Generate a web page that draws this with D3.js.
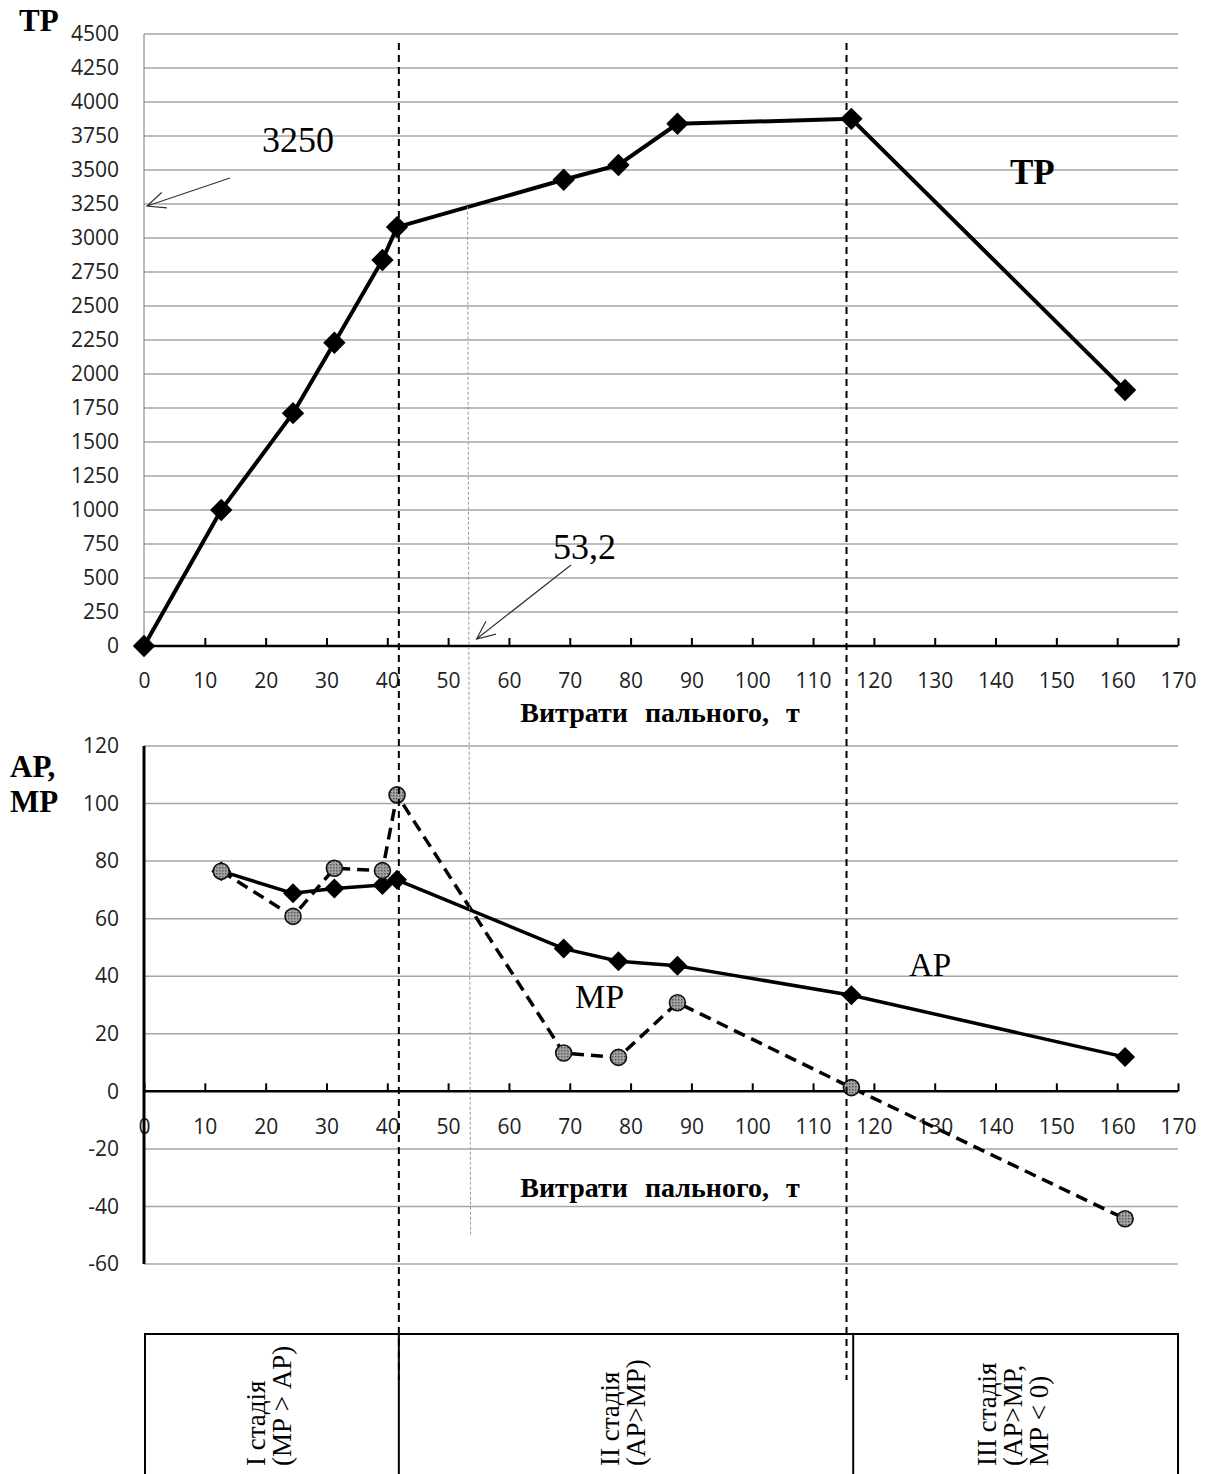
<!DOCTYPE html>
<html>
<head>
<meta charset="utf-8">
<script src="https://cdn.jsdelivr.net/npm/d3@7"></script>
<style>
  body { margin: 0; background: #fff; }
  .tick text { font-family: "Open Sans", sans-serif; font-size: 21px; fill: #222; }
</style>
</head>
<body>
<div id="chart"></div>
<script>
// values
const fuel = [0, 12.7, 24.5, 31.3, 39.2, 41.6, 69, 78, 87.7, 116.3, 161.3];
const tp   = [0, 1000, 1712, 2230, 2838, 3080, 3428, 3537, 3840, 3876, 1882];

const apFuel = [12.7, 24.5, 31.3, 39.2, 41.6, 69, 78, 87.7, 116.3, 161.3];
const ap = [76.5, 68.8, 70.5, 71.7, 73.5, 49.6, 45.2, 43.6, 33.4, 11.9];
const mp = [76.5, 60.8, 77.5, 76.7, 103, 13.3, 11.8, 30.8, 1.3, -44.3];

const xTicks  = d3.range(0, 171, 10);
const tpTicks = d3.range(0, 4501, 250);
const apTicks = d3.range(-60, 121, 20);

const stageLines = [41.9, 115.5];     // dashed boundaries
const stageCells = [0, 41.9, 116.6, 170];
const stageText = [
    ["І стадія", "(МР > АР)"],
    ["ІІ стадія", "(АР>МР)"],
    ["ІІІ стадія", "(АР>МР,", "МР < 0)"]
];

const svg = d3.select("#chart").append("svg")
    .attr("width", 1205)
    .attr("height", 1474);

// scales
const x = d3.scaleLinear().domain([0, 170]).range([144, 1178]);
const yTop = d3.scaleLinear().domain([0, 4500]).range([646, 34]);
const yBot = d3.scaleLinear().domain([-60, 120]).range([1264, 746]);

const serif = "'Liberation Serif', 'Times New Roman', serif";

// pattern for the grey circles
const pat = svg.append("defs").append("pattern")
    .attr("id", "dots").attr("width", 3).attr("height", 3)
    .attr("patternUnits", "userSpaceOnUse");
pat.append("rect").attr("width", 3).attr("height", 3).attr("fill", "#a2a2a2");
pat.append("rect").attr("width", 1.5).attr("height", 1.5).attr("fill", "#5a5a5a");

// ---------- top chart ----------
const topG = svg.append("g");

topG.selectAll(".gridT")
    .data(tpTicks.filter(d => d > 0))
    .join("line")
    .attr("x1", x(0)).attr("x2", x(170))
    .attr("y1", d => yTop(d)).attr("y2", d => yTop(d))
    .attr("stroke", "#a6a6a6").attr("stroke-width", 1.5);

topG.append("line")
    .attr("x1", x(0)).attr("x2", x(0))
    .attr("y1", yTop(0)).attr("y2", yTop(4500))
    .attr("stroke", "#777").attr("stroke-width", 1);

const yAxisTop = topG.append("g")
    .attr("transform", `translate(${x(0)},0)`)
    .call(d3.axisLeft(yTop).tickValues(tpTicks).tickSize(0).tickPadding(25).tickFormat(d => String(d)));
yAxisTop.select(".domain").remove();

const xAxisTop = topG.append("g")
    .attr("transform", `translate(0,${yTop(0)})`)
    .call(d3.axisBottom(x).tickValues(xTicks).tickSize(-8).tickPadding(27));
xAxisTop.select(".domain").remove();
xAxisTop.selectAll(".tick line").attr("stroke", "#000").attr("stroke-width", 2);

topG.append("line")
    .attr("x1", x(0)).attr("x2", x(170))
    .attr("y1", yTop(0)).attr("y2", yTop(0))
    .attr("stroke", "#000").attr("stroke-width", 2.5);

// ---------- bottom chart ----------
const botG = svg.append("g");

botG.selectAll(".gridB")
    .data(apTicks.filter(d => d !== 0))
    .join("line")
    .attr("x1", x(0)).attr("x2", x(170))
    .attr("y1", d => yBot(d)).attr("y2", d => yBot(d))
    .attr("stroke", "#a6a6a6").attr("stroke-width", 1.5);

const yAxisBot = botG.append("g")
    .attr("transform", `translate(${x(0)},0)`)
    .call(d3.axisLeft(yBot).tickValues(apTicks).tickSize(0).tickPadding(25).tickFormat(d => String(d)));
yAxisBot.select(".domain").remove();

const xAxisBot = botG.append("g")
    .attr("transform", `translate(0,${yBot(0)})`)
    .call(d3.axisBottom(x).tickValues(xTicks).tickSize(-8).tickPadding(28));
xAxisBot.select(".domain").remove();
xAxisBot.selectAll(".tick line").attr("stroke", "#000").attr("stroke-width", 2);

botG.append("line")
    .attr("x1", x(0)).attr("x2", x(170))
    .attr("y1", yBot(0)).attr("y2", yBot(0))
    .attr("stroke", "#000").attr("stroke-width", 2.5);

botG.append("line")
    .attr("x1", x(0)).attr("x2", x(0))
    .attr("y1", yBot(120)).attr("y2", yBot(-60))
    .attr("stroke", "#000").attr("stroke-width", 3);

// ---------- guide lines ----------
svg.selectAll(".stageLine")
    .data(stageLines)
    .join("line")
    .attr("x1", d => x(d)).attr("x2", d => x(d))
    .attr("y1", 43).attr("y2", 1380)
    .attr("stroke", "#000").attr("stroke-width", 2)
    .attr("stroke-dasharray", "7,5");

svg.append("line")
    .attr("x1", x(53.2)).attr("x2", x(53.2) + 3)
    .attr("y1", yTop(3230)).attr("y2", yBot(-50.5))
    .attr("stroke", "#999").attr("stroke-width", 1)
    .attr("stroke-dasharray", "3,2");

// ---------- series ----------
const diamond = d3.symbol(d3.symbolSquare, 250);

const tpData = fuel.map((f, i) => [f, tp[i]]);
topG.append("path")
    .datum(tpData)
    .attr("fill", "none").attr("stroke", "#000").attr("stroke-width", 4)
    .attr("stroke-linejoin", "round")
    .attr("d", d3.line().x(d => x(d[0])).y(d => yTop(d[1])));
topG.selectAll(".tpPt")
    .data(tpData)
    .join("path")
    .attr("d", diamond)
    .attr("transform", d => `translate(${x(d[0])},${yTop(d[1])}) rotate(45)`)
    .attr("fill", "#000");

const apData = apFuel.map((f, i) => [f, ap[i]]);
const mpData = apFuel.map((f, i) => [f, mp[i]]);
const lineB = d3.line().x(d => x(d[0])).y(d => yBot(d[1]));

botG.append("path")
    .datum(mpData)
    .attr("fill", "none").attr("stroke", "#000").attr("stroke-width", 3.5)
    .attr("stroke-dasharray", "12,7")
    .attr("d", lineB);

botG.append("path")
    .datum(apData)
    .attr("fill", "none").attr("stroke", "#000").attr("stroke-width", 3.5)
    .attr("stroke-linejoin", "round")
    .attr("d", lineB);
botG.selectAll(".apPt")
    .data(apData)
    .join("path")
    .attr("d", d3.symbol(d3.symbolSquare, 200))
    .attr("transform", d => `translate(${x(d[0])},${yBot(d[1])}) rotate(45)`)
    .attr("fill", "#000");

botG.selectAll(".mpPt")
    .data(mpData)
    .join("circle")
    .attr("cx", d => x(d[0])).attr("cy", d => yBot(d[1]))
    .attr("r", 8)
    .attr("fill", "url(#dots)")
    .attr("stroke", "#111").attr("stroke-width", 1.6);

// ---------- text labels ----------
function label(txt, px, py, size, bold, anchor) {
    svg.append("text")
        .attr("x", px).attr("y", py)
        .attr("font-family", serif)
        .attr("font-size", size)
        .attr("font-weight", bold ? "bold" : "normal")
        .attr("text-anchor", anchor || "start")
        .attr("fill", "#000")
        .text(txt);
}

label("ТР", 19, 31, 31, true);
label("АР,", 10, 777, 31, true);
label("МР", 10, 812, 31, true);
label("ТР", 1010, 184, 35, true);
label("МР", 575, 1008, 34, false);
label("АР", 909, 976, 33, false);
label("3250", 262, 152, 36, false);
label("53,2", 553, 559, 36, false);

svg.selectAll(".xTitle")
    .data([722, 1197])
    .join("text")
    .attr("x", 660).attr("y", d => d)
    .attr("text-anchor", "middle")
    .attr("font-family", serif).attr("font-size", 28).attr("font-weight", "bold")
    .attr("word-spacing", 10)
    .text("Витрати пального, т");

// arrows
function arrow(x1, y1, x2, y2) {
    const a = Math.atan2(y1 - y2, x1 - x2);
    const h = 20, s = 0.42;
    svg.append("path")
        .attr("d", `M${x1},${y1}L${x2},${y2}` +
            `M${x2 + h * Math.cos(a + s)},${y2 + h * Math.sin(a + s)}L${x2},${y2}` +
            `L${x2 + h * Math.cos(a - s)},${y2 + h * Math.sin(a - s)}`)
        .attr("fill", "none").attr("stroke", "#333").attr("stroke-width", 1.2);
}
arrow(230, 178, x(0) + 3, yTop(3250) + 2);
arrow(571, 565, x(53.2) + 9, yTop(0) - 7);

// ---------- stage table ----------
const tableTop = 1334;
svg.append("rect")
    .attr("x", x(0) + 1).attr("y", tableTop)
    .attr("width", x(170) - x(0) - 1).attr("height", 160)
    .attr("fill", "none").attr("stroke", "#000").attr("stroke-width", 2);

svg.selectAll(".cellDiv")
    .data(stageCells.slice(1, 3))
    .join("line")
    .attr("x1", d => x(d)).attr("x2", d => x(d))
    .attr("y1", tableTop).attr("y2", 1474)
    .attr("stroke", "#000").attr("stroke-width", 2);

stageText.forEach((lines, i) => {
    const cx = (x(stageCells[i]) + x(stageCells[i + 1])) / 2 - 3;
    lines.forEach((t, j) => {
        const off = (j - (lines.length - 1) / 2) * 26;
        svg.append("text")
            .attr("transform", `translate(${cx + off},1466) rotate(-90)`)
            .attr("dy", "0.35em")
            .attr("font-family", serif).attr("font-size", 27)
            .attr("fill", "#000")
            .text(t);
    });
});
</script>
</body>
</html>
